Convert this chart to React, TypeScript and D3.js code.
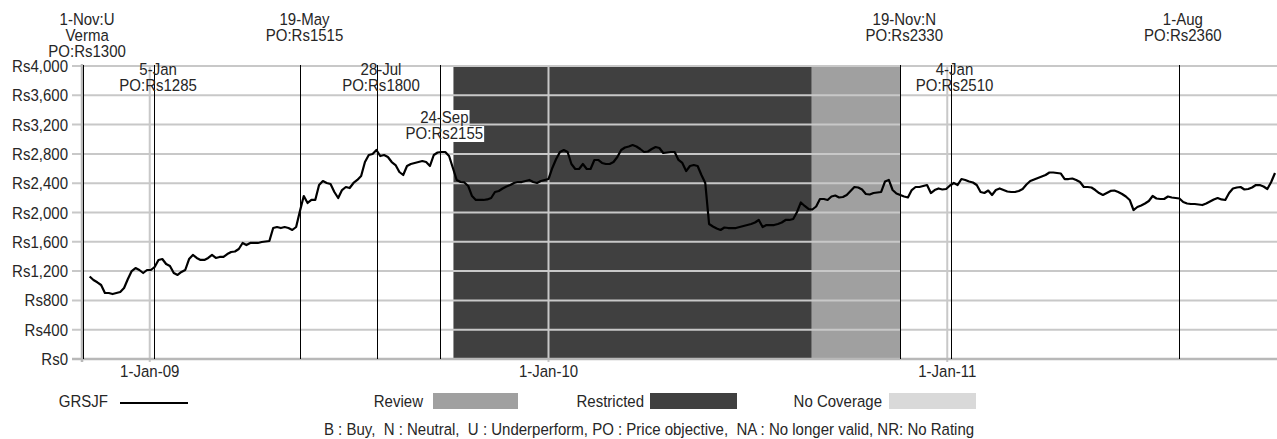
import React from "react";
import * as d3 from "d3";

const W = 1277;
const H = 439;

// ---- data ----
const yTicks = [0, 400, 800, 1200, 1600, 2000, 2400, 2800, 3200, 3600, 4000];
const xTickDates = ["2009-01-01", "2010-01-01", "2011-01-01"];
const xTickLabels = ["1-Jan-09", "1-Jan-10", "1-Jan-11"];

const priceStart = "2008-11-07"; // closes read every 3.5 days from this date
const priceStepHours = 84;
const closes = [
  1126, 1078, 1047, 1010, 901, 901, 887, 901, 915, 969,
  1092, 1201, 1242, 1215, 1174, 1215, 1215, 1256, 1352, 1365,
  1297, 1270, 1174, 1147, 1188, 1215, 1365, 1420, 1379, 1352,
  1352, 1379, 1420, 1379, 1393, 1393, 1433, 1461, 1468, 1502,
  1584, 1556, 1584, 1584, 1584, 1597, 1604, 1611, 1788, 1802,
  1788, 1802, 1788, 1761, 1802, 2020, 2225, 2130, 2171, 2171,
  2375, 2430, 2403, 2389, 2280, 2198, 2307, 2348, 2334, 2403,
  2444, 2498, 2689, 2785, 2799, 2853, 2771, 2785, 2758, 2689,
  2648, 2553, 2512, 2635, 2662, 2676, 2689, 2703, 2689, 2635,
  2785, 2819, 2826, 2826, 2771, 2608, 2444, 2416, 2410, 2362,
  2225, 2171, 2171, 2171, 2178, 2198, 2280, 2294, 2328, 2355,
  2375, 2403, 2416, 2416, 2430, 2444, 2416, 2403, 2430, 2444,
  2457, 2608, 2730, 2826, 2853, 2826, 2662, 2594, 2594, 2662,
  2594, 2594, 2717, 2717, 2676, 2662, 2662, 2689, 2758, 2853,
  2887, 2901, 2921, 2901, 2867, 2826, 2833, 2867, 2894, 2881,
  2812, 2819, 2826, 2826, 2717, 2676, 2566, 2635, 2648, 2635,
  2512, 2403, 1843, 1809, 1782, 1761, 1795, 1788, 1788, 1788,
  1802, 1816, 1829, 1843, 1863, 1898, 1802, 1829, 1829, 1829,
  1843, 1863, 1898, 1898, 1911, 2007, 2137, 2089, 2048, 2041,
  2082, 2184, 2184, 2171, 2218, 2232, 2205, 2212, 2239, 2294,
  2348, 2341, 2314, 2253, 2246, 2266, 2273, 2280, 2423, 2444,
  2307, 2259, 2239, 2218, 2205, 2307, 2348, 2348, 2362, 2375,
  2266, 2307, 2328, 2314, 2321, 2369, 2403, 2375, 2457, 2444,
  2423, 2410, 2375, 2280, 2266, 2300, 2239, 2307, 2328, 2307,
  2287, 2280, 2280, 2294, 2321, 2382, 2430, 2451, 2471, 2491,
  2512, 2546, 2546, 2539, 2532, 2457, 2457, 2464, 2444, 2416,
  2348, 2348, 2341, 2307, 2266, 2239, 2266, 2294, 2300, 2280,
  2253, 2218, 2171, 2034, 2075, 2096, 2123, 2157, 2225, 2191,
  2184, 2184, 2218, 2205, 2198, 2191, 2143, 2123, 2116, 2116,
  2109, 2102, 2123, 2150, 2178, 2198, 2178, 2171, 2266, 2328,
  2341, 2348, 2314, 2321, 2341, 2375, 2375, 2355, 2321, 2416,
  2539,
];

const eventDates = [
  "2008-11-01", "2009-01-05", "2009-05-19", "2009-07-28",
  "2009-09-24", "2010-11-19", "2011-01-04", "2011-08-01",
];
const eventLabels = [
  ["1-Nov:U", "Verma", "PO:Rs1300"],
  ["5-Jan", "PO:Rs1285"],
  ["19-May", "PO:Rs1515"],
  ["28-Jul", "PO:Rs1800"],
  ["24-Sep", "PO:Rs2155"],
  ["19-Nov:N", "PO:Rs2330"],
  ["4-Jan", "PO:Rs2510"],
  ["1-Aug", "PO:Rs2360"],
];

const restrictedPeriod = ["2009-10-06", "2010-08-30"];
const reviewPeriod = ["2010-08-30", "2010-11-19"];

const seriesName = "GRSJF";
const legendItems = ["Review", "Restricted", "No Coverage"];
const footnote =
  "B : Buy,  N : Neutral,  U : Underperform, PO : Price objective,  NA : No longer valid, NR: No Rating";

// ---- layout / style ----
const labelRow = [0, 1, 0, 1, 2, 0, 1, 0];
const rowBaseline = [25, 75, 123];
const lineStep = 16;
const legendTextEnd = [423, 644, 882];
const legendBoxX = [433, 650, 889];
const legendBoxW = [85, 87, 87];
const legendColors = ["#a0a0a0", "#404040", "#d9d9d9"];

const parse = d3.timeParse("%Y-%m-%d");
const FONT = "'Liberation Sans', Arial, sans-serif";
const FS = 16.5;
const SX = 0.91;
const TXT = "#262626";

let measureCtx: CanvasRenderingContext2D | null = null;
function textWidth(s: string) {
  if (!measureCtx && typeof document !== "undefined") {
    measureCtx = document.createElement("canvas").getContext("2d");
  }
  if (!measureCtx) return s.length * FS * 0.5 * SX;
  measureCtx.font = `${FS}px 'Liberation Sans', Arial, sans-serif`;
  return measureCtx.measureText(s).width * SX;
}

function T(props: {
  x: number;
  y: number;
  anchor?: string;
  children: React.ReactNode;
  pre?: boolean;
}) {
  const { x, y, anchor = "start", children, pre } = props;
  return (
    <text
      transform={`translate(${x},${y}) scale(${SX},1)`}
      textAnchor={anchor}
      fontFamily={FONT}
      fontSize={FS}
      fill={TXT}
      style={pre ? { whiteSpace: "pre" } : undefined}
    >
      {children}
    </text>
  );
}

export default function App() {
  const x = d3
    .scaleTime()
    .domain([parse("2008-10-31")!, parse("2011-10-28")!])
    .range([82, 1275]);
  const y = d3.scaleLinear().domain([0, 4000]).range([359, 66]);

  const start = parse(priceStart)!;
  const data = closes.map((v, i) => ({
    date: d3.timeHour.offset(start, i * priceStepHours),
    value: v,
  }));
  const line = d3
    .line<{ date: Date; value: number }>()
    .x((d) => x(d.date))
    .y((d) => y(d.value));

  const top = y(4000);
  const bottom = y(0);
  const right = W;
  const grid = "#c8c8c8";

  const rx0 = x(parse(restrictedPeriod[0])!);
  const rx1 = x(parse(restrictedPeriod[1])!);
  const vx0 = x(parse(reviewPeriod[0])!);
  const vx1 = x(parse(reviewPeriod[1])!);

  const labels = eventDates.map((d, i) => {
    const cx = x(parse(d)!) + 4;
    const b = rowBaseline[labelRow[i]];
    return eventLabels[i].map((s, j) => ({
      s,
      cx,
      by: b + j * lineStep,
      w: textWidth(s),
    }));
  });

  return (
    <svg
      width={W}
      height={H}
      style={{ position: "absolute", left: 0, top: 0, background: "#fff" }}
    >
      {/* bands */}
      <rect x={rx0} y={top - 1} width={rx1 - rx0} height={bottom - top + 1} fill="#404040" />
      <rect x={vx0} y={top - 1} width={vx1 - vx0} height={bottom - top + 1} fill="#a0a0a0" />

      {/* label backgrounds */}
      {labels.flat().map((l, k) => (
        <rect
          key={k}
          x={l.cx - l.w / 2 - 1}
          y={l.by - 13}
          width={l.w + 2}
          height={16}
          fill="#fff"
        />
      ))}

      {/* horizontal gridlines */}
      {yTicks.map((t) => (
        <line
          key={t}
          x1={72}
          x2={right}
          y1={y(t)}
          y2={y(t)}
          stroke={grid}
          strokeWidth={2}
        />
      ))}
      {/* vertical year gridlines */}
      {xTickDates.map((d) => (
        <line
          key={d}
          x1={x(parse(d)!)}
          x2={x(parse(d)!)}
          y1={top}
          y2={bottom + 3}
          stroke={grid}
          strokeWidth={2}
        />
      ))}
      {/* axes */}
      <line x1={82} x2={82} y1={top - 2} y2={bottom + 3} stroke="#b8b8b8" strokeWidth={2.5} />
      <line x1={72} x2={right} y1={bottom} y2={bottom} stroke="#b8b8b8" strokeWidth={2.5} />

      {/* event lines */}
      {eventDates.map((d) => (
        <line
          key={d}
          x1={Math.round(x(parse(d)!)) + 0.5}
          x2={Math.round(x(parse(d)!)) + 0.5}
          y1={top - 1}
          y2={bottom}
          stroke="#000"
          strokeWidth={1}
        />
      ))}

      {/* price line */}
      <path
        d={line(data) || ""}
        fill="none"
        stroke="#000"
        strokeWidth={2.2}
        strokeLinejoin="round"
      />

      {/* y labels */}
      {yTicks.map((t) => (
        <T key={t} x={68} y={y(t) + 6} anchor="end">
          {"Rs" + d3.format(",")(t)}
        </T>
      ))}
      {/* x labels */}
      {xTickDates.map((d, i) => (
        <T key={d} x={x(parse(d)!)} y={377} anchor="middle">
          {xTickLabels[i]}
        </T>
      ))}

      {/* event labels */}
      {labels.flat().map((l, k) => (
        <T key={k} x={l.cx} y={l.by} anchor="middle">
          {l.s}
        </T>
      ))}

      {/* legend */}
      <T x={108} y={407} anchor="end">
        {seriesName}
      </T>
      <line x1={120} x2={188} y1={403} y2={403} stroke="#000" strokeWidth={2} />
      {legendItems.map((s, i) => (
        <g key={s}>
          <T x={legendTextEnd[i]} y={407} anchor="end">
            {s}
          </T>
          <rect
            x={legendBoxX[i]}
            y={393}
            width={legendBoxW[i]}
            height={16}
            fill={legendColors[i]}
          />
        </g>
      ))}

      <T x={649} y={435} anchor="middle" pre>
        {footnote}
      </T>
    </svg>
  );
}
